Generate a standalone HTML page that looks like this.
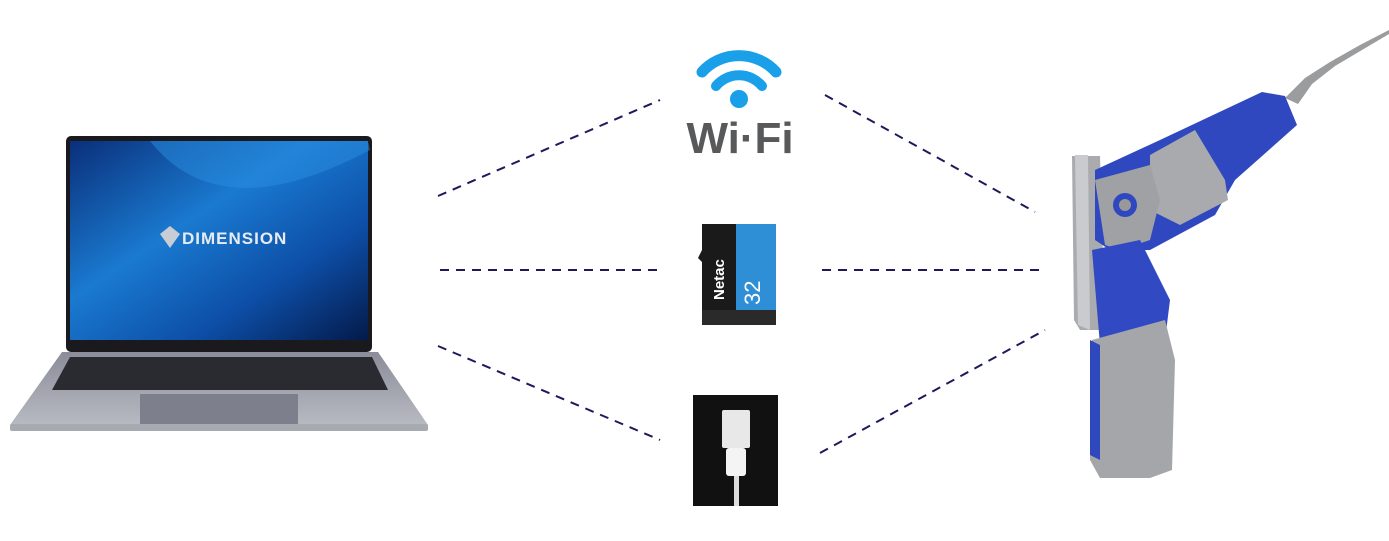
<!DOCTYPE html>
<html><head><style>body{margin:0;background:#fff}svg{display:block}</style></head><body>
<svg width="1389" height="541" viewBox="0 0 1389 541" xmlns="http://www.w3.org/2000/svg">
<defs>
<linearGradient id="scr" x1="0" y1="0" x2="1" y2="1"><stop offset="0" stop-color="#0a2f7a"/><stop offset="0.4" stop-color="#1a7ad0"/><stop offset="0.7" stop-color="#0d4fa8"/><stop offset="1" stop-color="#041a4a"/></linearGradient>
<linearGradient id="base" x1="0" y1="0" x2="0" y2="1"><stop offset="0" stop-color="#8a8d99"/><stop offset="1" stop-color="#b8bac2"/></linearGradient>
</defs>
<g stroke="#1c1a5c" stroke-width="2" stroke-dasharray="9 7" fill="none">
<line x1="438" y1="196" x2="660" y2="100"/><line x1="825" y1="95" x2="1035" y2="212"/>
<line x1="440" y1="270" x2="660" y2="270"/><line x1="822" y1="270" x2="1045" y2="270"/>
<line x1="438" y1="346" x2="660" y2="440"/><line x1="820" y1="453" x2="1045" y2="330"/>
</g>
<!-- laptop -->
<rect x="66" y="136" width="306" height="216" rx="5" fill="#1a1a1e"/>
<rect x="70" y="141" width="298" height="199" fill="url(#scr)"/>
<path d="M150 141 Q220 230 370 150 L368 141Z" fill="#2a8ee0" opacity="0.5"/>
<text x="182" y="244" font-family="Liberation Sans,sans-serif" font-weight="bold" font-size="17" fill="#e8ecf2" letter-spacing="1">DIMENSION</text>
<path d="M160 234 l10 -8 l10 8 l-10 14z" fill="#c8ccd4"/>
<path d="M62 352 L378 352 L428 425 L10 425Z" fill="url(#base)"/>
<path d="M70 357 L372 357 L388 390 L52 390Z" fill="#2a2b30"/>
<rect x="140" y="394" width="158" height="30" fill="#7d808c"/>
<rect x="10" y="424" width="418" height="7" rx="2" fill="#a8aab2"/>
<!-- wifi -->
<g fill="none" stroke="#1aa0e8" stroke-linecap="round">
<path d="M702 72 A50 50 0 0 1 776 72" stroke-width="11"/>
<path d="M716 86 A30 30 0 0 1 762 86" stroke-width="10"/>
</g>
<circle cx="739" cy="99" r="9" fill="#1aa0e8"/>
<text x="740" y="153" text-anchor="middle" font-family="Liberation Sans,sans-serif" font-weight="bold" font-size="44" fill="#58595b">Wi·Fi</text>
<!-- sd -->
<path d="M702 224 L776 224 L776 322 Q776 325 773 325 L705 325 Q702 325 702 322 L702 262 L698 258 L702 250Z" fill="#1a1a1a"/>
<path d="M736 224 L776 224 L776 310 L736 310Z" fill="#2e8fd6"/>
<rect x="702" y="310" width="74" height="15" fill="#2a2a2a"/>
<text transform="translate(724 300) rotate(-90)" font-family="Liberation Sans,sans-serif" font-weight="bold" font-size="15" fill="#fff">Netac</text>
<text transform="translate(760 305) rotate(-90)" font-family="Liberation Sans,sans-serif" font-size="22" fill="#fff">32</text>
<!-- usb -->
<rect x="693" y="395" width="85" height="111" fill="#111"/>
<rect x="722" y="410" width="28" height="38" rx="2" fill="#e8e8e8"/>
<rect x="726" y="448" width="20" height="28" rx="3" fill="#f4f4f4"/>
<rect x="734" y="476" width="5" height="30" fill="#ddd"/>
<!-- device -->
<path d="M1285 98 L1305 78 L1330 62 L1360 45 L1389 30 L1389 34 L1362 50 L1335 66 L1312 84 L1298 104Z" fill="#9a9c9e"/>
<path d="M1072 156 L1100 156 L1105 330 L1080 330 L1074 320Z" fill="#a9abae"/>
<path d="M1075 155 L1088 155 L1090 330 L1078 325Z" fill="#c9cbce"/>
<path d="M1095 170 L1160 140 L1262 92 L1285 96 L1297 125 L1235 180 L1215 215 L1150 250 L1110 250 L1095 240Z" fill="#2f48c0"/>
<path d="M1150 155 L1195 130 L1225 180 L1228 200 L1180 225 L1150 210Z" fill="#a8aaad"/>
<path d="M1095 180 L1150 165 L1160 200 L1150 240 L1120 250 L1105 245Z" fill="#9fa1a4"/>
<circle cx="1125" cy="205" r="12" fill="#2f48c0"/><circle cx="1125" cy="205" r="6" fill="#999"/>
<path d="M1092 250 L1140 240 L1170 300 L1165 340 L1100 345Z" fill="#3149c2"/>
<path d="M1092 340 L1165 320 L1175 360 L1172 470 L1150 478 L1100 478 L1090 460Z" fill="#a4a6a9"/>
<path d="M1090 340 L1100 345 L1100 460 L1090 455Z" fill="#3048bd"/>
</svg>
</body></html>
